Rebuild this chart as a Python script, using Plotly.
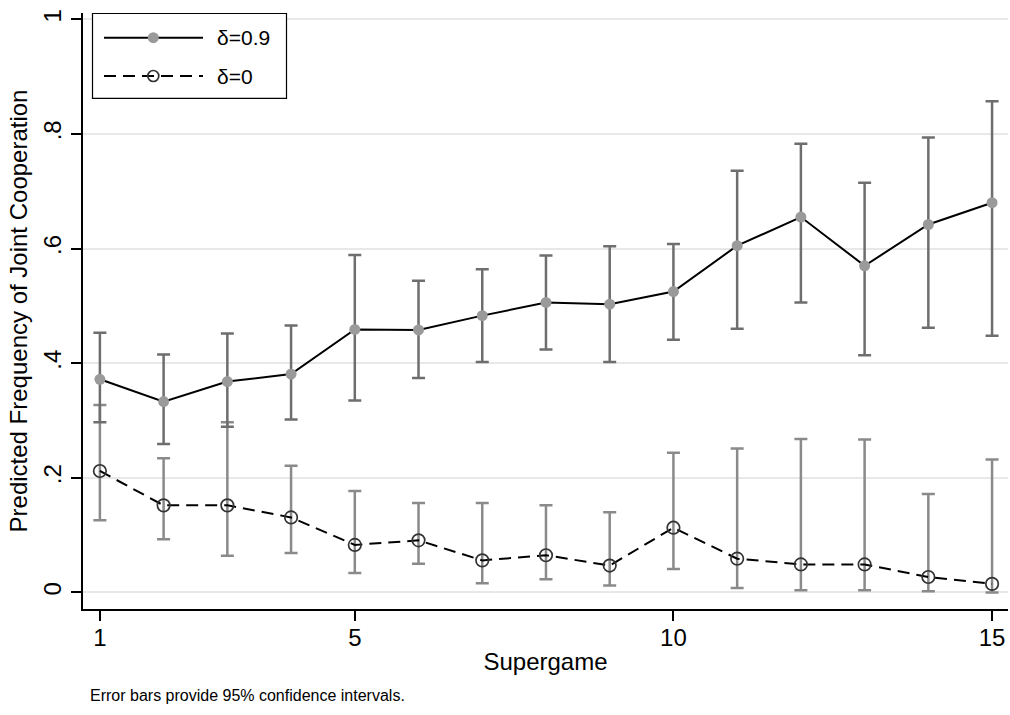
import plotly.graph_objects as go

supergame = list(range(1, 16))

coop_d09 = [0.372, 0.333, 0.368, 0.381, 0.459, 0.458, 0.483, 0.506, 0.503, 0.525, 0.605, 0.655, 0.570, 0.642, 0.680]
upper_d09 = [0.453, 0.415, 0.452, 0.466, 0.589, 0.544, 0.564, 0.588, 0.604, 0.608, 0.736, 0.783, 0.715, 0.794, 0.857]
lower_d09 = [0.297, 0.259, 0.289, 0.302, 0.335, 0.374, 0.402, 0.424, 0.402, 0.441, 0.460, 0.506, 0.414, 0.462, 0.448]

coop_d0 = [0.212, 0.152, 0.152, 0.131, 0.083, 0.091, 0.056, 0.065, 0.047, 0.113, 0.059, 0.049, 0.049, 0.027, 0.015]
upper_d0 = [0.327, 0.234, 0.297, 0.221, 0.177, 0.156, 0.156, 0.152, 0.140, 0.244, 0.251, 0.268, 0.267, 0.172, 0.232]
lower_d0 = [0.126, 0.093, 0.064, 0.069, 0.034, 0.050, 0.016, 0.023, 0.012, 0.041, 0.008, 0.004, 0.004, 0.002, 0.000]

x_ticks = [1, 5, 10, 15]
y_ticks = [0, 0.2, 0.4, 0.6, 0.8, 1]
y_ticktext = ["0", ".2", ".4", ".6", ".8", "1"]

FONT = "Liberation Sans, Arial, sans-serif"
W, H = 1010, 715
# plot area in reference pixels: x 83..1008, y 13..609
ML, MT = 83, 13
MR = W - 1008
MB = H - 609
PW, PH = W - ML - MR, H - MT - MB


def px(xp):
    return (xp - ML) / PW


def py(yp):
    return (H - MB - yp) / PH


fig = go.Figure()

fig.add_trace(go.Scatter(
    x=supergame, y=coop_d0, mode="lines+markers", name="δ=0", showlegend=False,
    line=dict(color="black", width=2, dash="12px,7px"),
    marker=dict(symbol="circle-open", size=12.5, color="#333333", line=dict(width=1.7, color="#333333")),
    error_y=dict(type="data", symmetric=False,
                 array=[u - v for u, v in zip(upper_d0, coop_d0)],
                 arrayminus=[v - l for v, l in zip(coop_d0, lower_d0)],
                 color="#8a8a8a", thickness=2.5, width=6.5),
))

fig.add_trace(go.Scatter(
    x=supergame, y=coop_d09, mode="lines+markers", name="δ=0.9", showlegend=False,
    line=dict(color="black", width=2),
    marker=dict(symbol="circle", size=11, color="#9a9a9a"),
    error_y=dict(type="data", symmetric=False,
                 array=[u - v for u, v in zip(upper_d09, coop_d09)],
                 arrayminus=[v - l for v, l in zip(coop_d09, lower_d09)],
                 color="#6e6e6e", thickness=2.5, width=6.5),
))

shapes = []
# legend box
shapes.append(dict(type="rect", xref="paper", yref="paper",
                   x0=px(92.5), x1=px(286.5), y0=py(98.3), y1=py(13.5),
                   line=dict(color="black", width=1.2), fillcolor="white", layer="above"))
r1, r2 = 37.7, 76.0
shapes.append(dict(type="line", xref="paper", yref="paper", x0=px(104), x1=px(203), y0=py(r1), y1=py(r1),
                   line=dict(color="black", width=2), layer="above"))
shapes.append(dict(type="line", xref="paper", yref="paper", x0=px(104), x1=px(203), y0=py(r2), y1=py(r2),
                   line=dict(color="black", width=2, dash="12px,7px"), layer="above"))
shapes.append(dict(type="circle", xref="paper", yref="paper", xsizemode="pixel", ysizemode="pixel",
                   xanchor=px(153.3), yanchor=py(r1), x0=-5.5, x1=5.5, y0=-5.5, y1=5.5,
                   fillcolor="#9a9a9a", line=dict(width=0), layer="above"))
shapes.append(dict(type="circle", xref="paper", yref="paper", xsizemode="pixel", ysizemode="pixel",
                   xanchor=px(153.3), yanchor=py(r2), x0=-5.5, x1=5.5, y0=-5.5, y1=5.5,
                   fillcolor="rgba(0,0,0,0)", line=dict(width=1.7, color="#333333"), layer="above"))

annotations = [
    dict(text="δ=0.9", xref="paper", yref="paper", x=px(215), y=py(r1), xanchor="left", yanchor="middle",
         showarrow=False, font=dict(size=21, color="black", family=FONT)),
    dict(text="δ=0", xref="paper", yref="paper", x=px(215), y=py(r2), xanchor="left", yanchor="middle",
         showarrow=False, font=dict(size=21, color="black", family=FONT)),
    dict(text="Error bars provide 95% confidence intervals.", xref="paper", yref="paper",
         x=px(88), y=py(695), xanchor="left", yanchor="middle", showarrow=False,
         font=dict(size=16, color="black", family=FONT)),
]

fig.update_layout(
    width=W, height=H,
    margin=dict(l=ML, r=MR, t=MT, b=MB, autoexpand=False),
    paper_bgcolor="white", plot_bgcolor="white",
    font=dict(family=FONT, color="black"),
    showlegend=False,
    shapes=shapes, annotations=annotations,
    xaxis=dict(range=[0.735, 15.25], tickvals=x_ticks, showgrid=False, zeroline=False, automargin=False,
               showline=True, linecolor="black", linewidth=1.5, ticks="outside", ticklen=10,
               tickwidth=1.5, tickcolor="black", tickfont=dict(size=24), ticklabelstandoff=-4,
               title=dict(text="Supergame", font=dict(size=24), standoff=4)),
    yaxis=dict(range=[-0.0288, 1.011], tickvals=y_ticks, ticktext=y_ticktext, tickangle=-90,
               showgrid=True, gridcolor="#e8e8e8", gridwidth=1.5, zeroline=False, automargin=False,
               showline=True, linecolor="black", linewidth=1.5, ticks="outside", ticklen=10,
               tickwidth=1.5, tickcolor="black", tickfont=dict(size=24), ticklabelstandoff=1,
               title=dict(text="Predicted Frequency of Joint Cooperation", font=dict(size=24), standoff=4)),
)

fig.write_html("out.html", config={"displayModeBar": False},
               post_script="document.body.style.margin='0';document.body.style.overflow='hidden';")
